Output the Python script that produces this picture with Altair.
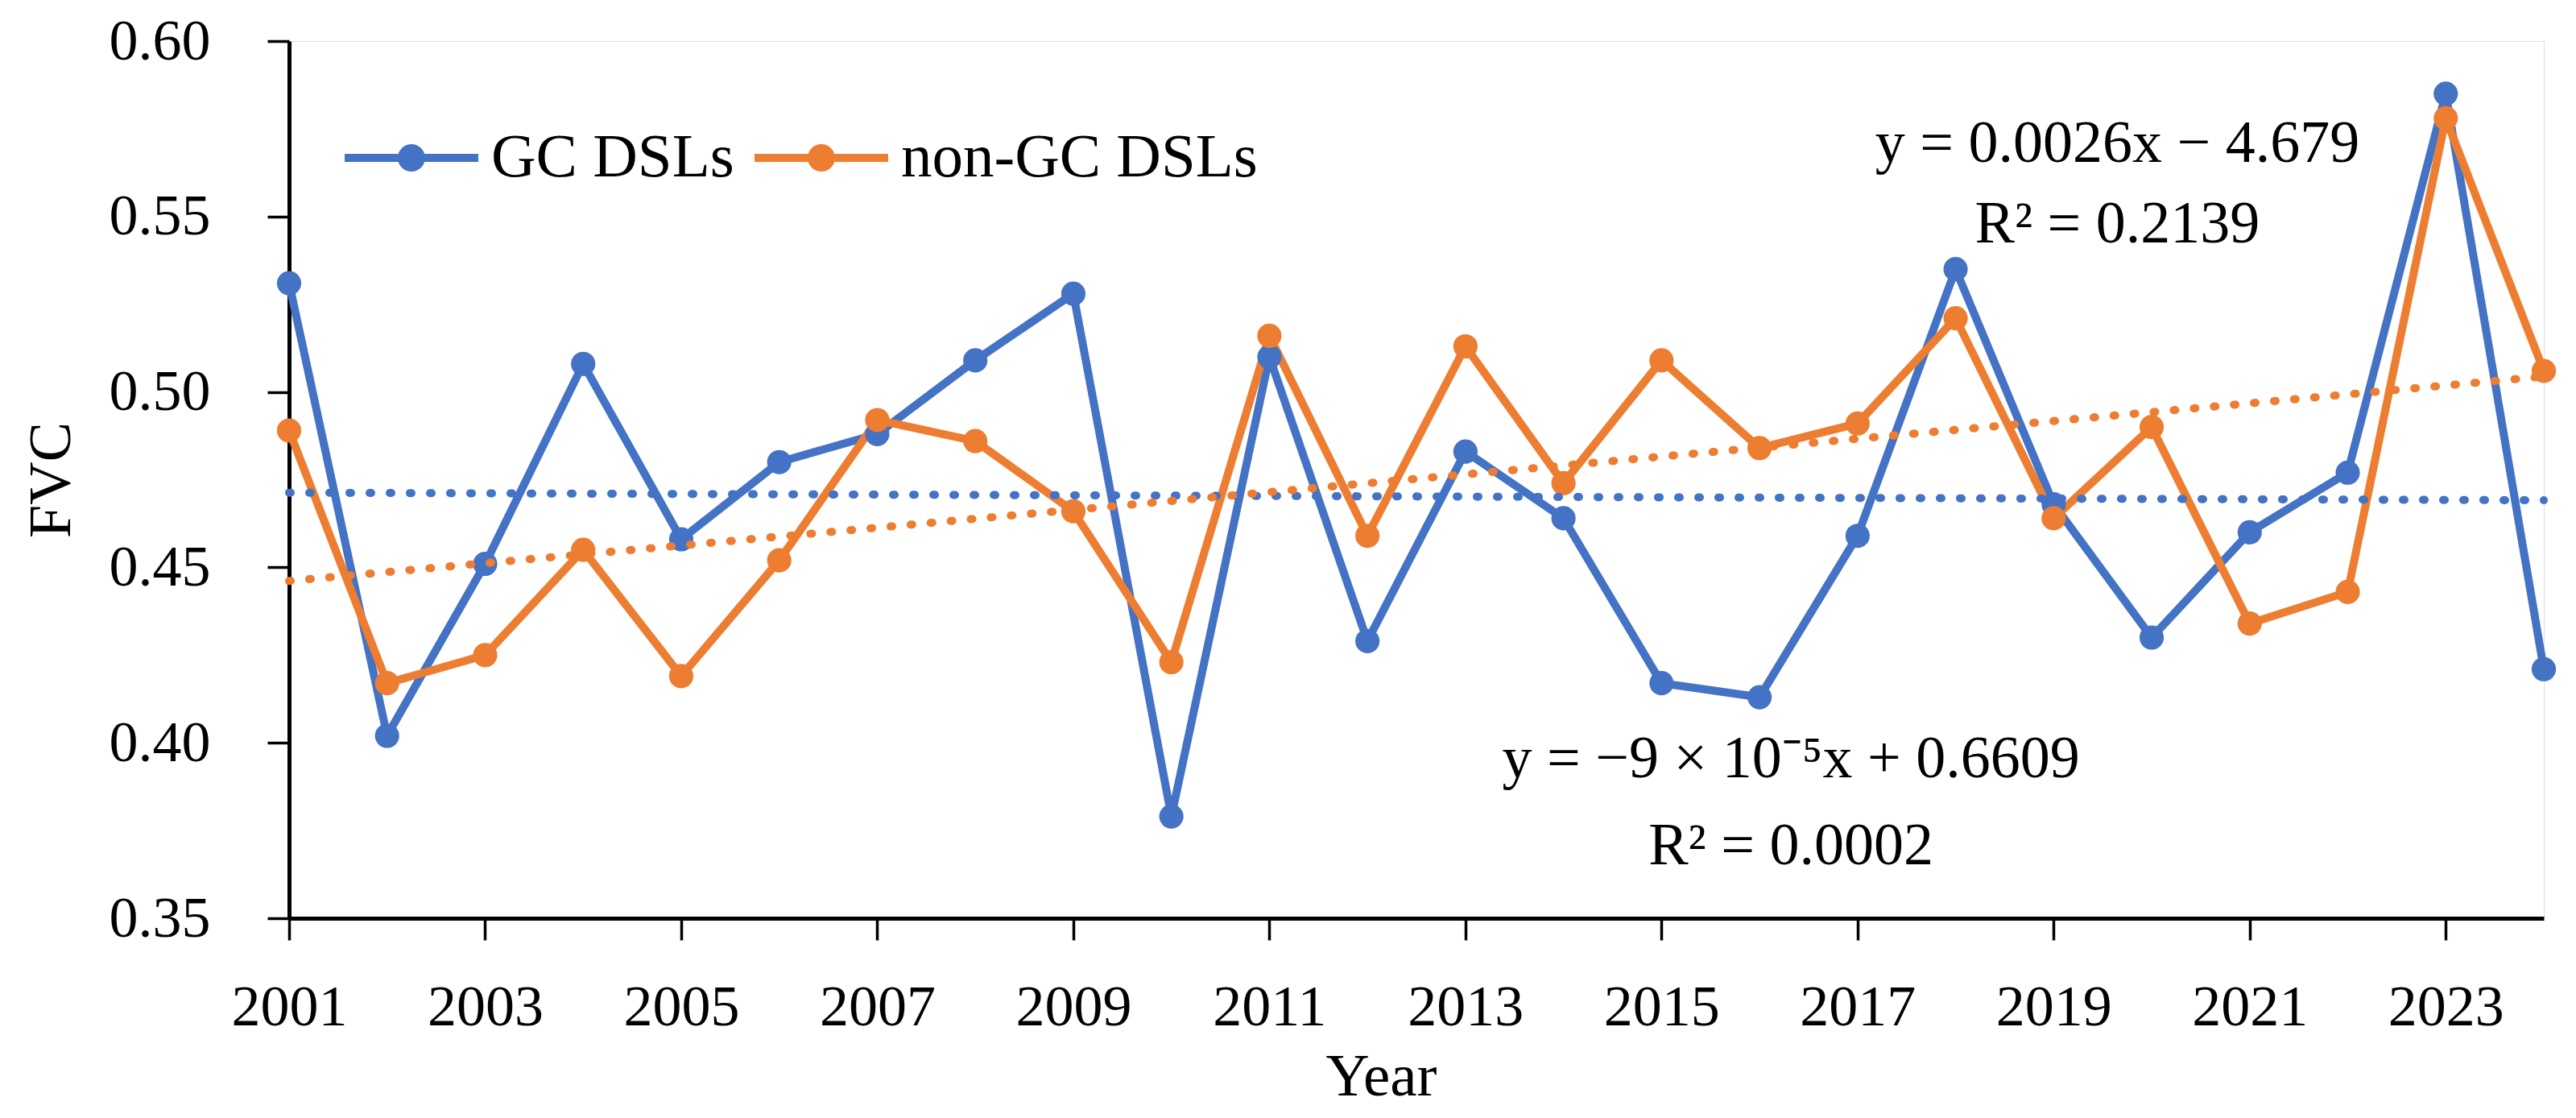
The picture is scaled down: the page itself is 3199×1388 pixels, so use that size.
import altair as alt
import pandas as pd

years = list(range(2001, 2025))
gc_dsls = [0.531, 0.402, 0.451, 0.508, 0.458, 0.480, 0.488, 0.509, 0.528, 0.379,
           0.510, 0.429, 0.483, 0.464, 0.417, 0.413, 0.459, 0.535, 0.468, 0.430,
           0.460, 0.477, 0.585, 0.421]
non_gc_dsls = [0.489, 0.417, 0.425, 0.455, 0.419, 0.452, 0.492, 0.486, 0.466, 0.423,
               0.516, 0.459, 0.513, 0.474, 0.509, 0.484, 0.491, 0.521, 0.464, 0.490,
               0.434, 0.443, 0.578, 0.506]
series_names = ["GC DSLs", "non-GC DSLs"]
series_colors = ["#4472C4", "#ED7D31"]
x_ticks = list(range(2001, 2025, 2))
y_ticks = [0.35, 0.40, 0.45, 0.50, 0.55, 0.60]

ann_text = ["y = 0.0026x \u2212 4.679", "R\u00b2 = 0.2139",
            "y = \u22129 \u00d7 10\u207b\u2075x + 0.6609", "R\u00b2 = 0.0002"]
ann_x = [2019.65, 2019.65, 2016.32, 2016.32]
ann_y = [0.5656, 0.5426, 0.3902, 0.3654]

FONT = "Liberation Serif"

df = pd.DataFrame({
    "year": years * 2,
    "value": gc_dsls + non_gc_dsls,
    "series": [series_names[0]] * len(years) + [series_names[1]] * len(years),
})
df["line_series"] = df["series"]
df["order"] = df["series"].map({series_names[0]: 0, series_names[1]: 1})
ann = pd.DataFrame({"year": ann_x, "value": ann_y, "text": ann_text})

legend_path = ("M-1,-0.06H1V0.06H-1Z "
               "M0.205,0A0.205,0.205 0 1 1 -0.205,0A0.205,0.205 0 1 1 0.205,0Z")

x_enc = alt.X("year:Q",
              scale=alt.Scale(domain=[2001, 2024], nice=False, zero=False),
              axis=alt.Axis(values=x_ticks, format="d", title="Year",
                            labelFont=FONT, labelFontSize=72, labelColor="black",
                            labelPadding=48, labelFlush=False, labelOverlap=False,
                            tickSize=27, tickWidth=3.5, tickColor="black",
                            domainWidth=5, domainColor="black", grid=False,
                            titleFont=FONT, titleFontSize=75, titleFontWeight="normal",
                            titleColor="black", titleX=1356, titleY=160))
y_enc = alt.Y("value:Q",
              scale=alt.Scale(domain=[0.35, 0.60], nice=False, zero=False),
              axis=alt.Axis(values=y_ticks, format=".2f", title="FVC",
                            labelFont=FONT, labelFontSize=72, labelColor="black",
                            labelPadding=71, labelFlush=False, labelOverlap=False,
                            tickSize=27, tickWidth=3.5, tickColor="black",
                            domainWidth=5, domainColor="black", grid=False,
                            titleFont=FONT, titleFontSize=74, titleFontWeight="normal",
                            titleColor="black", titleX=-257, titleY=544.5))

color_scale = alt.Scale(domain=series_names, range=series_colors)
stroke_scale = alt.Scale(range=series_colors)

base = alt.Chart(df)

lines = base.mark_line(strokeWidth=10).encode(
    x=x_enc, y=y_enc,
    stroke=alt.Stroke("line_series:N", scale=stroke_scale, legend=None),
    order="year:Q",
)

points = base.mark_circle(size=908, opacity=1).encode(
    x="year:Q", y="value:Q",
    color=alt.Color("series:N", scale=color_scale,
                    legend=alt.Legend(title=None, orient="none", direction="horizontal",
                                      legendX=69, legendY=62, padding=0,
                                      symbolType=legend_path, symbolSize=27556,
                                      symbolStrokeWidth=0, symbolOpacity=1,
                                      labelFont=FONT, labelFontSize=77,
                                      labelColor="black", labelOffset=16,
                                      labelLimit=0, columnPadding=25)),
    order="order:Q",
)

trends = base.transform_regression(
    "year", "value", groupby=["line_series"]
).mark_line(strokeWidth=10, strokeDash=[2, 23], strokeCap="round").encode(
    x="year:Q", y="value:Q",
    stroke=alt.Stroke("line_series:N", scale=stroke_scale, legend=None),
)

labels = alt.Chart(ann).mark_text(font=FONT, fontSize=74, align="center",
                                  baseline="alphabetic", color="black").encode(
    x="year:Q", y="value:Q", text="text:N",
)

chart = alt.layer(lines, points, trends, labels).properties(
    width=2800, height=1089,
    autosize=alt.AutoSizeParams(type="none"),
    padding={"left": 351, "top": 43, "right": 32, "bottom": 236},
).configure_view(stroke="black", strokeWidth=5).configure(background="white")

chart.save("out.html", embed_options={"renderer": "svg", "actions": False})
